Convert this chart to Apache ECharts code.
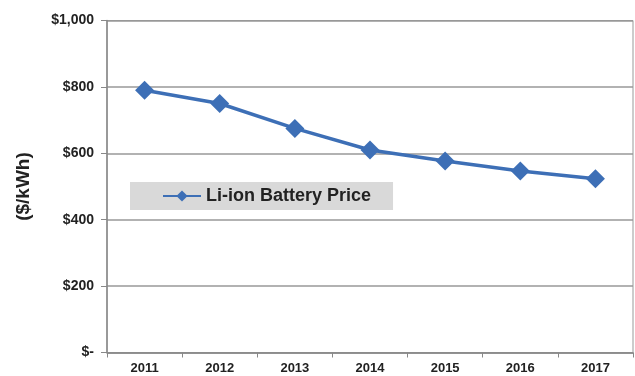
<!DOCTYPE html>
<html><head><meta charset="utf-8">
<script src="https://cdn.jsdelivr.net/npm/echarts@6/dist/echarts.min.js"></script>
<style>html,body{margin:0;padding:0;background:#fff}#c{width:635px;height:376px}</style>
</head><body><div id="c"></div>
<script>
const years = ['2011','2012','2013','2014','2015','2016','2017'];
const prices = [790, 750, 675, 610, 577, 547, 523];
const seriesName = 'Li-ion Battery Price';
const yTicks = [0, 200, 400, 600, 800, 1000];
const yTitle = '($/kWh)';

const chart = echarts.init(document.getElementById('c'));
chart.setOption({
  animation: false,
  backgroundColor: '#ffffff',
  grid: { left: 107, right: 2, top: 20.5, bottom: 23.5, show: true, borderColor: '#999', borderWidth: 1 },
  legend: {
    data: [seriesName],
    left: 130, top: 182,
    padding: [5, 22, 5, 32],
    backgroundColor: '#d9d9d9',
    itemWidth: 38, itemHeight: 14, itemGap: 4,
    textStyle: { fontFamily: 'Liberation Sans, Arial', fontWeight: 'bold', fontSize: 18, color: '#222' }
  },
  xAxis: {
    type: 'category', data: years, boundaryGap: true,
    axisLine: { lineStyle: { color: '#888', width: 1.5 } },
    axisTick: { show: true, length: 5, lineStyle: { color: '#888' } },
    axisLabel: { fontFamily: 'Liberation Sans, Arial', fontWeight: 'bold', fontSize: 13, color: '#222', margin: 9 }
  },
  yAxis: {
    type: 'value', min: 0, max: 1000, interval: 200,
    name: yTitle, nameLocation: 'middle', nameGap: 74, nameRotate: 90,
    nameTextStyle: { fontFamily: 'Liberation Sans, Arial', fontWeight: 'bold', fontSize: 19, color: '#222' },
    axisLine: { show: true, lineStyle: { color: '#888', width: 1.5 } },
    axisTick: { show: true, length: 6, lineStyle: { color: '#888' } },
    splitLine: { lineStyle: { color: '#999', width: 1.5 } },
    axisLabel: {
      fontFamily: 'Liberation Sans, Arial', fontWeight: 'bold', fontSize: 14, color: '#222', margin: 13,
      formatter: v => yTicks.includes(v) ? (v === 0 ? '$-' : '$' + v.toLocaleString('en-US')) : ''
    }
  },
  series: [{
    name: seriesName, type: 'line', data: prices,
    symbol: 'diamond', symbolSize: 19,
    lineStyle: { color: '#3d6fb6', width: 3.5 },
    itemStyle: { color: '#3d6fb6' }
  }]
});
</script></body></html>
